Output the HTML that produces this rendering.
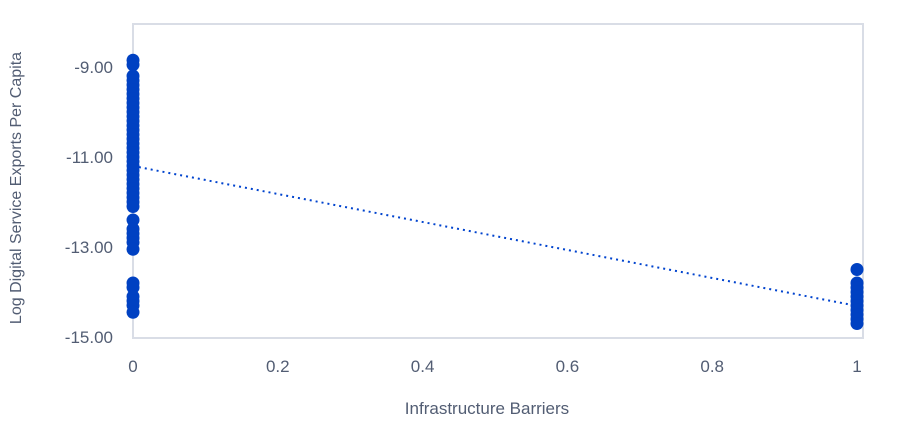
<!DOCTYPE html>
<html><head><meta charset="utf-8"><style>
body{margin:0;background:#fff;font-family:"Liberation Sans",sans-serif}
text{font-family:"Liberation Sans",sans-serif;fill:#525d73}
</style></head><body>
<svg id="chart" width="904" height="431">
<rect x="133" y="24" width="730" height="314" fill="none" stroke="#d9dde6" stroke-width="2"/>
<g id="ticks"></g><g id="marks"></g>
<text x="487" y="414" font-size="17" text-anchor="middle">Infrastructure Barriers</text>
<text transform="translate(21,188) rotate(-90)" font-size="16" text-anchor="middle">Log Digital Service Exports Per Capita</text>
</svg>
<script>
const xTicks=[0,0.2,0.4,0.6,0.8,1];
const xTickLabels=["0","0.2","0.4","0.6","0.8","1"];
const yTicks=[-9,-11,-13,-15];
const yTickLabels=["-9.00","-11.00","-13.00","-15.00"];
const groupX=[0,1];
const values0=[-8.85,-8.95,-9.2,-9.3,-9.4,-9.5,-9.6,-9.7,-9.8,-9.9,-10.0,-10.1,-10.2,-10.3,-10.4,-10.5,-10.6,-10.7,-10.8,-10.9,-11.0,-11.1,-11.2,-11.3,-11.4,-11.5,-11.6,-11.7,-11.8,-11.9,-12.0,-12.1,-12.4,-12.6,-12.7,-12.8,-12.9,-13.05,-13.8,-13.9,-14.1,-14.2,-14.3,-14.45];
const values1=[-13.5,-13.8,-13.9,-14.0,-14.1,-14.2,-14.3,-14.4,-14.5,-14.6,-14.7];
const trendStart=-11.2, trendEnd=-14.31;
const sx=v=>133+v*724;
const sy=v=>67+(v+9)*-45;
const NS="http://www.w3.org/2000/svg";
const ticks=document.getElementById('ticks'),marks=document.getElementById('marks');
xTicks.forEach((t,i)=>{const e=document.createElementNS(NS,'text');e.setAttribute('x',sx(t));e.setAttribute('y',372);e.setAttribute('font-size','17');e.setAttribute('text-anchor','middle');e.textContent=xTickLabels[i];


ticks.appendChild(e);});
yTicks.forEach((t,i)=>{const e=document.createElementNS(NS,'text');e.setAttribute('x',113);e.setAttribute('y',sy(t)+6);e.setAttribute('font-size','17');e.setAttribute('text-anchor','end');e.textContent=yTickLabels[i];


ticks.appendChild(e);});
const l=document.createElementNS(NS,'line');l.setAttribute('x1',sx(0));l.setAttribute('y1',sy(trendStart));l.setAttribute('x2',sx(1));l.setAttribute('y2',sy(trendEnd));l.setAttribute('stroke','#0043ce');l.setAttribute('stroke-width','2');l.setAttribute('stroke-dasharray','2 4');


marks.appendChild(l);
[values0,values1].forEach((vals,g)=>vals.forEach(v=>{const c=document.createElementNS(NS,'circle');c.setAttribute('cx',sx(groupX[g]));c.setAttribute('cy',sy(v));c.setAttribute('r',6.5);c.setAttribute('fill','#0041c2');


marks.appendChild(c);}));
</script>
</body></html>
